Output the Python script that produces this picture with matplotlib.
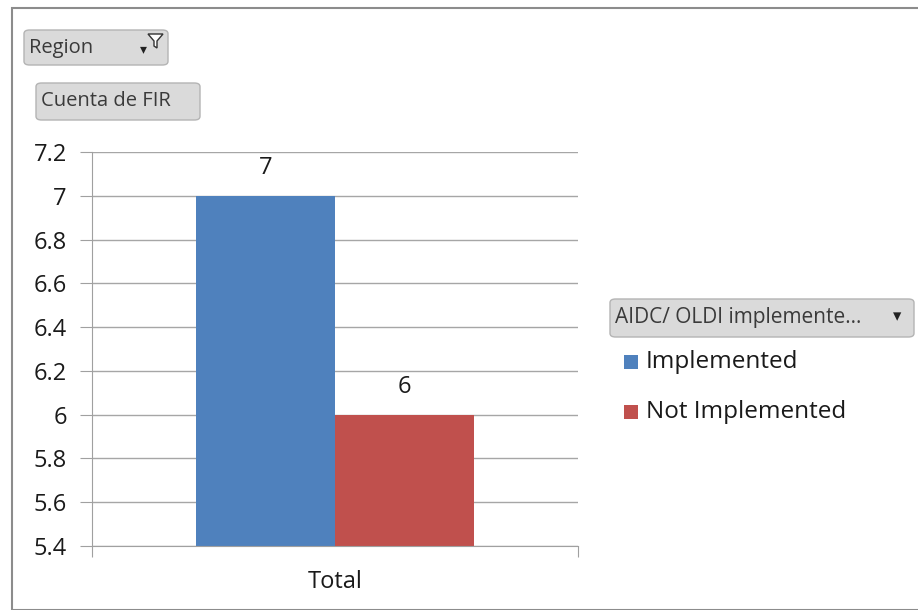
import matplotlib.pyplot as plt
from matplotlib.patches import FancyBboxPatch, Rectangle, Polygon
import numpy as np

plt.rcParams['font.family'] = ['Open Sans', 'DejaVu Sans']

categories = ['Total']
series = ['Implemented', 'Not Implemented']
values = [7, 6]
colors = ['#4F81BD', '#C0504D']
yticks = [5.4, 5.6, 5.8, 6, 6.2, 6.4, 6.6, 6.8, 7, 7.2]
ytick_labels = ['5.4', '5.6', '5.8', '6', '6.2', '6.4', '6.6', '6.8', '7', '7.2']

W, H = 918, 610
fig = plt.figure(figsize=(9.18, 6.10), dpi=100)

# marco exterior
fig.patches.append(Rectangle((12 / W, 0), 1.2, 1 - 8 / H, transform=fig.transFigure,
                             fill=False, edgecolor='#8c8c8c', linewidth=1.5))

ax = fig.add_axes([92 / W, 1 - 546 / H, (578 - 92) / W, (546 - 152) / H])
x = np.arange(len(categories))
bw = 0.285
for i, (name, v, c) in enumerate(zip(series, values, colors)):
    off = (i - 0.5) * bw
    ax.bar(x + off, [v], width=bw, color=c, zorder=3, label=name)
    ax.text(x[0] + off, v + 0.07, str(v), ha='center', va='bottom', fontsize=17, color='#1a1a1a')

ax.set_xlim(-0.5, 0.5)
ax.set_ylim(5.4, 7.2)
ax.set_yticks(yticks)
ax.set_yticklabels(ytick_labels, fontsize=17, color='#1a1a1a')
ax.set_xticks([-0.5, 0.5])
ax.set_xticklabels(['', ''])
ax.text(0.5, -0.062, categories[0], transform=ax.transAxes, ha='center', va='top',
        fontsize=17, color='#1a1a1a')
ax.tick_params(axis='y', length=9, color='#a0a0a0', pad=9)
ax.tick_params(axis='x', length=8, color='#a0a0a0')
ax.grid(axis='y', color='#a6a6a6', linewidth=1, zorder=0)
for s in ['top', 'right']:
    ax.spines[s].set_visible(False)
for s in ['left', 'bottom']:
    ax.spines[s].set_color('#a0a0a0')
    ax.spines[s].set_zorder(4)

def button(x0, y0, x1, y1, text, fs=14.5):
    fig.patches.append(FancyBboxPatch((x0 / W, 1 - y1 / H), (x1 - x0) / W, (y1 - y0) / H,
                                      boxstyle='round,pad=0,rounding_size=0.006',
                                      transform=fig.transFigure, facecolor='#dadada',
                                      edgecolor='#b4b4b4', linewidth=1))
    fig.text((x0 + 5) / W, 1 - (y0 + y1) / 2 / H, text, ha='left', va='center',
             fontsize=fs, color='#3a3a3a')

button(24, 30, 168, 65, 'Region')
fig.text(143 / W, 1 - 50 / H, '▾', fontsize=10, ha='center', va='center', color='#222222')
# icono de filtro
fig.patches.append(Polygon([(148 / W, 1 - 34 / H), (163 / W, 1 - 34 / H), (157 / W, 1 - 41 / H),
                            (157 / W, 1 - 48 / H), (154 / W, 1 - 46 / H), (154 / W, 1 - 41 / H)],
                           closed=True, transform=fig.transFigure, facecolor='white',
                           edgecolor='#333333', linewidth=1))
button(36, 83, 200, 120, 'Cuenta de FIR')
button(610, 299, 914, 337, 'AIDC/ OLDI implemente...', fs=15)
fig.text(897 / W, 1 - 317 / H, '▾', fontsize=12, ha='center', va='center', color='#222222')

# leyenda
for i, (name, c) in enumerate(zip(series, colors)):
    yc = 362 + i * 50
    fig.patches.append(Rectangle((624 / W, 1 - (yc + 7) / H), 14 / W, 14 / H,
                                 transform=fig.transFigure, facecolor=c, edgecolor='none'))
    fig.text(646 / W, 1 - yc / H, name, ha='left', va='center', fontsize=17.5, color='#1a1a1a')

fig.savefig('out.png', dpi=100)
